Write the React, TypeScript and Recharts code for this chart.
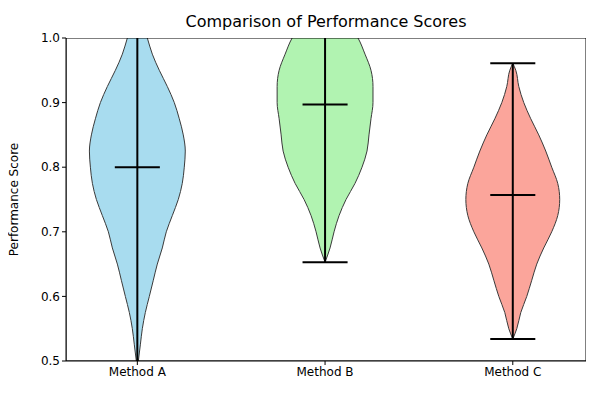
import React from "react";
import {
  ComposedChart,
  Area,
  XAxis,
  YAxis,
  ReferenceLine,
  ReferenceArea,
} from "recharts";

const methods = ["Method A", "Method B", "Method C"];
const colors = ["#a8dcef", "#b1f3b1", "#fba59b"];

// half widths of each violin (px, 188px = 1 unit)
const violinA: [number, number][] = [
  [0.49, 0], [0.5, 1], [0.525, 3], [0.55, 5], [0.575, 8], [0.6, 12], [0.625, 16],
  [0.65, 20], [0.675, 25], [0.7, 29], [0.725, 35], [0.75, 41], [0.775, 45],
  [0.8, 47], [0.825, 48], [0.85, 46], [0.875, 42], [0.9, 37], [0.925, 30],
  [0.95, 22], [0.975, 15], [1.0, 10], [1.025, 5], [1.05, 0],
];
const violinB: [number, number][] = [
  [0.653, 0], [0.675, 5], [0.7, 9], [0.725, 14], [0.75, 21], [0.775, 30],
  [0.8, 37], [0.825, 42], [0.85, 44], [0.875, 46], [0.9, 48], [0.925, 48],
  [0.95, 46], [0.975, 40], [1.0, 33], [1.025, 22], [1.05, 10], [1.07, 0],
];
const violinC: [number, number][] = [
  [0.534, 0], [0.55, 4], [0.575, 8], [0.6, 14], [0.625, 19], [0.65, 24],
  [0.675, 31], [0.7, 39], [0.725, 45], [0.75, 47], [0.775, 45], [0.8, 39],
  [0.825, 33], [0.85, 26], [0.875, 18], [0.9, 11], [0.925, 6], [0.95, 3],
  [0.961, 0],
];
const mins = [0.49, 0.653, 0.534];
const maxs = [1.05, 1.07, 0.961];
const centers = [0.8, 0.897, 0.757];
const yTicks = [0.5, 0.6, 0.7, 0.8, 0.9, 1.0];

const violins = [violinA, violinB, violinC];
const PX = 188;
const CAP = 0.12;

const font = "DejaVu Sans, sans-serif";
const margin = { top: 38, right: 14, left: 16, bottom: 9 };

function Axes({ show }: { show: boolean }) {
  return null;
}

function axes(show: boolean) {
  return [
    <XAxis
      key="x"
      type="number"
      domain={[0.62, 3.39]}
      ticks={[1, 2, 3]}
      tickFormatter={(v) => methods[v - 1]}
      height={30}
      tickSize={4}
      stroke={show ? "#000" : "none"}
      tick={show ? { fill: "#000", fontSize: 12 } : false}
      allowDataOverflow
    />,
    <YAxis
      key="y"
      type="number"
      dataKey="y"
      reversed
      domain={[0.5, 1.0]}
      ticks={yTicks}
      tickFormatter={(v) => v.toFixed(1)}
      width={50}
      tickSize={4}
      stroke={show ? "#000" : "none"}
      tick={show ? { fill: "#000", fontSize: 12 } : false}
      allowDataOverflow
      label={
        show
          ? { value: "Performance Score", angle: -90, position: "insideLeft", offset: -2, style: { textAnchor: "middle", fill: "#000", fontSize: 12 } }
          : undefined
      }
    />,
  ];
}

export default function App() {
  return (
    <div style={{ position: "relative", width: 600, height: 400, margin: -8, fontFamily: font }}>
      <div
        style={{
          position: "absolute",
          top: 12,
          width: 600,
          paddingLeft: 52,
          boxSizing: "border-box",
          textAlign: "center",
          fontSize: 16,
        }}
      >
        Comparison of Performance Scores
      </div>
      {violins.map((v, i) => {
        const data = v.map(([y, w]) => ({ y, range: [i + 1 - w / PX, i + 1 + w / PX] }));
        return (
          <div key={i} style={{ position: "absolute", top: 0, left: 0 }}>
            <ComposedChart width={600} height={400} data={data} layout="vertical" margin={margin}>
              {axes(i === 0)}
              <Area
                dataKey="range"
                type="monotone"
                fill={colors[i]}
                fillOpacity={1}
                stroke="#3a3a3a"
                strokeWidth={1}
                isAnimationActive={false}
              />
              <ReferenceLine
                segment={[{ x: i + 1, y: mins[i] }, { x: i + 1, y: maxs[i] }]}
                stroke="#000"
                strokeWidth={2}
                ifOverflow="hidden"
              />
              {[mins[i], maxs[i], centers[i]].map((val, j) => (
                <ReferenceLine
                  key={j}
                  segment={[{ x: i + 1 - CAP, y: val }, { x: i + 1 + CAP, y: val }]}
                  stroke="#000"
                  strokeWidth={2}
                  ifOverflow="hidden"
                />
              ))}
              {i === 2 && (
                <ReferenceArea x1={0.62} x2={3.39} y1={0.5} y2={1.0} fill="none" stroke="#000" strokeWidth={1} ifOverflow="hidden" />
              )}
            </ComposedChart>
          </div>
        );
      })}
    </div>
  );
}
